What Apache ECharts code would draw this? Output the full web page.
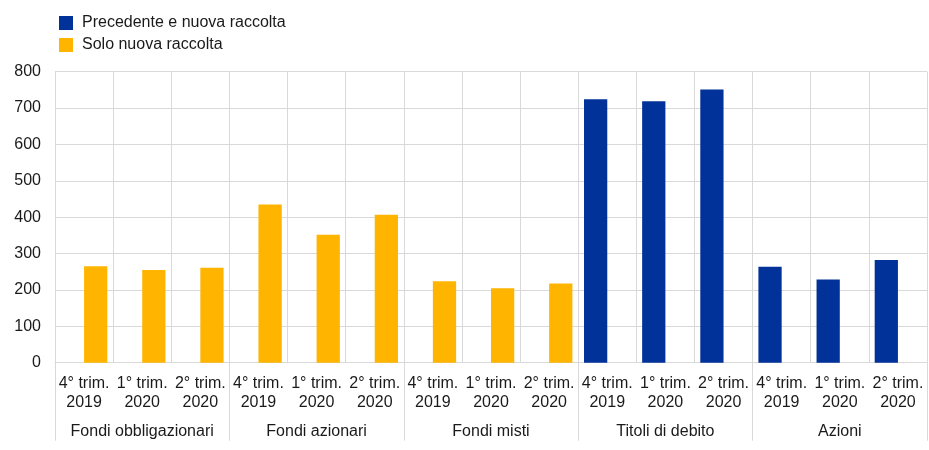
<!DOCTYPE html>
<html>
<head>
<meta charset="utf-8">
<script src="https://cdn.jsdelivr.net/npm/echarts@6/dist/echarts.min.js"></script>
<style>
  html, body { margin: 0; padding: 0; background: #fff; }
  #chart { width: 929px; height: 450px; }
</style>
</head>
<body>
<div id="chart"></div>
<script>
const quarters = [
  "4° trim.\n2019", "1° trim.\n2020", "2° trim.\n2020",
  "4° trim.\n2019", "1° trim.\n2020", "2° trim.\n2020",
  "4° trim.\n2019", "1° trim.\n2020", "2° trim.\n2020",
  "4° trim.\n2019", "1° trim.\n2020", "2° trim.\n2020",
  "4° trim.\n2019", "1° trim.\n2020", "2° trim.\n2020"
];
const groups = ["Fondi obbligazionari", "Fondi azionari", "Fondi misti", "Titoli di debito", "Azioni"];
const seriesNames = ["Precedente e nuova raccolta", "Solo nuova raccolta"];
const precedenteNuova = [null, null, null, null, null, null, null, null, null, 724, 719, 751, 264, 229, 282];
const soloNuova = [265, 255, 261, 435, 352, 407, 224, 205, 218, null, null, null, null, null, null];
const yTicks = { min: 0, max: 800, interval: 100 };

const chart = echarts.init(document.getElementById('chart'));
const font = 'Arial, "Liberation Sans", sans-serif';
const gridColor = '#d9d9d9';
const textColor = '#1a1a1a';
chart.setOption({
  animation: false,
  textStyle: { fontFamily: font },
  legend: {
    left: 54, top: 9, orient: 'vertical',
    itemWidth: 14, itemHeight: 14, itemGap: 4,
    icon: 'rect',
    textStyle: { fontSize: 16, lineHeight: 18, color: textColor, fontFamily: font, padding: [0, 0, 0, 4] },
    data: seriesNames
  },
  grid: { left: 55, right: 2, top: 71.7, bottom: 87.3 },
  xAxis: [
    {
      type: 'category', data: quarters, position: 'bottom',
      axisLine: { show: true, lineStyle: { color: gridColor, width: 1 } },
      axisTick: { show: false },
      splitLine: { show: true, interval: 0, lineStyle: { color: gridColor, width: 1 } },
      axisLabel: { interval: 0, fontSize: 16, lineHeight: 19, color: textColor, margin: 11, fontFamily: font }
    },
    {
      type: 'category', data: groups, position: 'bottom',
      axisLine: { show: false },
      axisTick: { show: true, interval: 0, length: 78, lineStyle: { color: gridColor, width: 1 } },
      splitLine: { show: false },
      axisLabel: { interval: 0, fontSize: 16, color: textColor, margin: 61, fontFamily: font }
    }
  ],
  yAxis: {
    type: 'value', min: yTicks.min, max: yTicks.max, interval: yTicks.interval,
    axisLine: { show: false }, axisTick: { show: false },
    splitLine: { lineStyle: { color: gridColor, width: 1 } },
    axisLabel: { fontSize: 16, color: textColor, margin: 14, fontFamily: font }
  },
  series: [
    {
      name: seriesNames[0], type: 'bar', data: precedenteNuova, xAxisIndex: 0,
      itemStyle: { color: '#003299' }, barGap: '0%', barCategoryGap: '20%'
    },
    {
      name: seriesNames[1], type: 'bar', data: soloNuova, xAxisIndex: 0,
      itemStyle: { color: '#FFB400' }, barGap: '0%', barCategoryGap: '20%'
    }
  ]
});
</script>
</body>
</html>
